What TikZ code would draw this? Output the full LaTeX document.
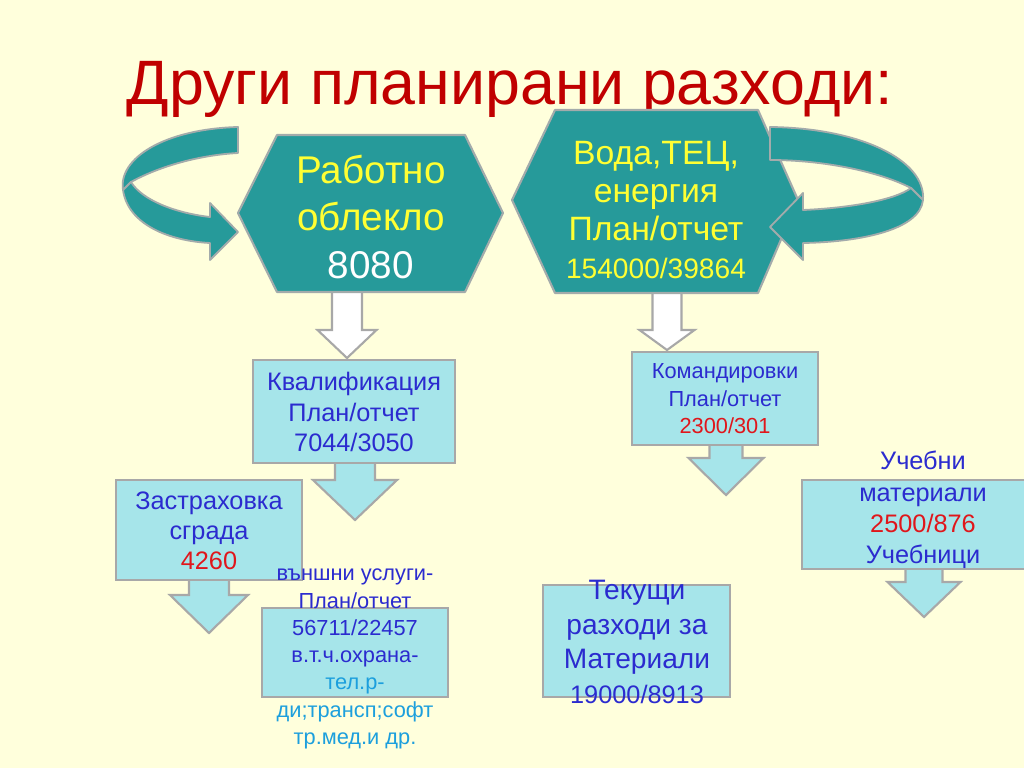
\documentclass[tikz,border=0pt]{standalone}
\usepackage{fontspec}
\setmainfont{Liberation Sans}
\usepackage{tikz}
\usepackage{xcolor}
\definecolor{slidebg}{HTML}{FFFFDC}
\definecolor{titlered}{HTML}{C00000}
\definecolor{hexteal}{HTML}{269A9A}
\definecolor{rimgray}{HTML}{A3ABAB}
\definecolor{boxcyan}{HTML}{A6E5EA}
\definecolor{boxgray}{HTML}{A8A8A8}
\definecolor{hexyellow}{HTML}{FFFF33}
\definecolor{txtblue}{HTML}{2B2BCF}
\definecolor{numred}{HTML}{E0161B}
\definecolor{skyblue}{HTML}{1C9FDD}

\newcommand{\dnarrow}[7][]{%
	\draw[#1] (#2-#4,#3) -- (#2+#4,#3) -- (#2+#4,#6) -- (#2+#5,#6) -- (#2,#7) -- (#2-#5,#6) -- (#2-#4,#6) -- cycle;}

\begin{document}
\begin{tikzpicture}[x=0.025cm, y=-0.025cm,
		hexst/.style={fill=hexteal, draw=rimgray, line width=1.5pt, line join=round},
		turnst/.style={fill=hexteal, draw=rimgray, line width=1.3pt, line join=round},
		hollowst/.style={fill=white, draw=boxgray, line width=1.5pt},
		dropst/.style={fill=boxcyan, draw=boxgray, line width=1.5pt},
		boxst/.style={fill=boxcyan, draw=boxgray, line width=2pt},
		lbl/.style={align=center, text=txtblue, inner sep=0pt}
	]
		\fill[slidebg] (0,0) rectangle (1024,768);
		\useasboundingbox (0,0) rectangle (1024,768);
		%
		\node[text=titlered, font=\fontsize{44.6}{50}\selectfont, anchor=base] (title) at (510,105) {Други планирани разходи:};
		%
		\dnarrow[hollowst]{347}{288}{15}{29.5}{330}{358}
		\dnarrow[hollowst]{667}{288}{14.5}{27.5}{330}{350}
		%
		\draw[hexst] (277,135) -- (465,135) -- (503,213) -- (465,292) -- (277,292) -- (238,213) -- cycle;
		\draw[hexst] (555,110) -- (758,110) -- (798,200) -- (758,293) -- (555,293) -- (512,200) -- cycle;
		%
		\draw[turnst] (238,127) .. controls (165,129) and (118,158) .. (123,190) -- (131,182) .. controls (160,166) and (200,155) .. (238,153) -- cycle;
		\draw[turnst] (123,190) .. controls (128,225) and (170,241) .. (210,243) -- (210,260) -- (238,232) -- (210,203) -- (210,217) .. controls (175,213) and (142,200) .. (131,182) -- cycle;
		\draw[turnst] (770,127) .. controls (860,128) and (926,160) .. (923,200) -- (911,188) .. controls (880,172) and (825,160) .. (770,160) -- cycle;
		\draw[turnst] (923,200) .. controls (920,230) and (860,242) .. (803,243) -- (803,260) -- (770,227) -- (803,193) -- (803,210) .. controls (850,208) and (895,200) .. (911,188) -- cycle;
		%
		\node[text=hexyellow, align=center, inner sep=0pt, font=\fontsize{27.5}{33.8}\selectfont] (cloth) at (371,217) {Работно\\облекло\\\textcolor{white}{8080}};
		\node[text=hexyellow, align=center, inner sep=0pt, font=\fontsize{24}{26.8}\selectfont] (water) at (656,210) {Вода,ТЕЦ,\\енергия\\План/отчет\\{\fontsize{20}{24}\selectfont 154000/39864}};
		%
		\dnarrow[dropst]{355}{455}{20}{42}{480}{520}
		\dnarrow[dropst]{209}{572}{20}{39}{595}{633}
		\dnarrow[dropst]{726}{437}{16.5}{37.5}{458}{495}
		\dnarrow[dropst]{924}{562}{18.5}{36.5}{582}{617}
		%
		\draw[boxst] (253,360) rectangle (455,463);
		\draw[boxst] (116,480) rectangle (302,580);
		\draw[boxst] (262,608) rectangle (448,697);
		\draw[boxst] (632,352) rectangle (818,445);
		\draw[boxst] (802,480) rectangle (1040,569);
		\draw[boxst] (543,585) rectangle (730,697);
		%
		\node[lbl, font=\fontsize{18}{21.7}\selectfont] (qual) at (354,412) {Квалификация\\План/отчет\\7044/3050};
		\node[lbl, font=\fontsize{18}{21.3}\selectfont] (insur) at (209,531) {Застраховка\\сграда\\\textcolor{numred}{4260}};
		\node[lbl, font=\fontsize{15.5}{19.4}\selectfont] (serv) at (355,659) {външни услуги-\\План/отчет\\56711/22457\\в.т.ч.охрана-\\\textcolor{skyblue}{тел.р-}\\\textcolor{skyblue}{ди;трансп;софт}\\\textcolor{skyblue}{тр.мед.и др.}};
		\node[lbl, font=\fontsize{15.5}{19.6}\selectfont] (trip) at (725,399) {Командировки\\План/отчет\\\textcolor{numred}{2300/301}};
		\node[lbl, font=\fontsize{18}{22.3}\selectfont] (books) at (923,510) {Учебни\\материали\\\textcolor{numred}{2500/876}\\Учебници};
		\node[lbl, font=\fontsize{20}{24.5}\selectfont] (mater) at (637,642) {Текущи\\разходи за\\Материали\\{\fontsize{18}{22}\selectfont 19000/8913}};
	\end{tikzpicture}
\end{document}
